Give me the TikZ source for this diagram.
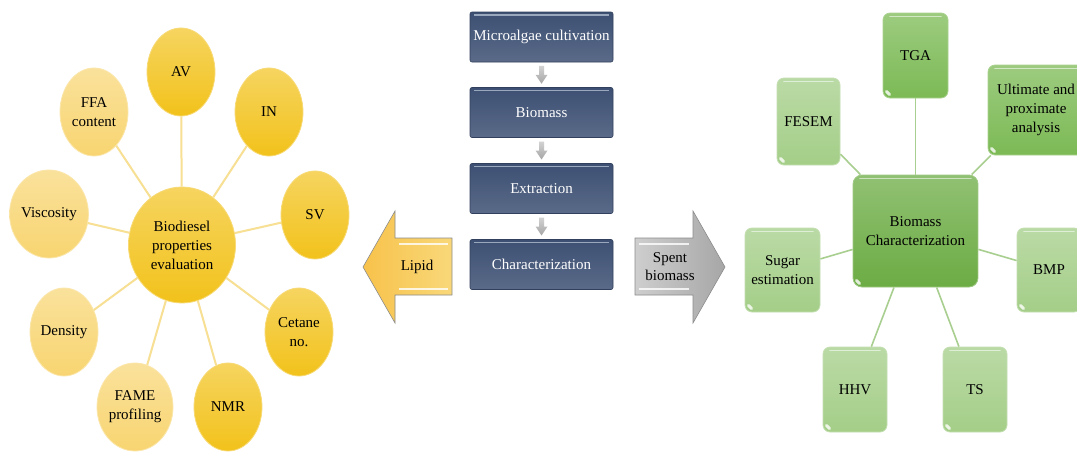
\documentclass[tikz,border=0pt]{standalone}
\usepackage{fontspec}
\setmainfont{Liberation Serif}
\usetikzlibrary{shapes.geometric,calc}

\definecolor{gold}{HTML}{F2C21B}
\definecolor{goldlight}{HTML}{F8D571}
\definecolor{goldline}{HTML}{F7DF93}
\definecolor{navy}{HTML}{3D5073}
\definecolor{navyglint}{HTML}{9AA8BE}
\definecolor{leafdark}{HTML}{6CAC44}
\definecolor{leafmid}{HTML}{7CBA55}
\definecolor{leaflight}{HTML}{A4CE88}
\definecolor{leafline}{HTML}{A9CF90}
\definecolor{lipidfill}{HTML}{F7CE58}
\definecolor{spentfill}{HTML}{B9B9B9}

\tikzset{
  x=1pt, y=-1pt,
  txt/.style={font=\fontsize{15}{19}\selectfont, align=center, text=black},
  ball/.style={txt, ellipse, inner sep=0pt, draw=#1!60!white, line width=0.8pt,
    top color=#1!70!white, bottom color=#1, minimum width=68, minimum height=88},
  glint/.style={path picture={
    \draw[white, opacity=.55, line width=1.6pt, line cap=round]
      ([xshift=7pt,yshift=-3.5pt]path picture bounding box.north west) --
      ([xshift=-7pt,yshift=-3.5pt]path picture bounding box.north east);
    \draw[white, opacity=.8, line width=3pt, line cap=round]
      ([xshift=3.5pt,yshift=6.5pt]path picture bounding box.south west) --
      ([xshift=6.5pt,yshift=3.5pt]path picture bounding box.south west);
  }},
  tile/.style={txt, rectangle, rounded corners=7pt, inner sep=2pt,
    draw=#1!65!white, line width=0.8pt, top color=#1!75!white, bottom color=#1,
    glint, minimum width=64, minimum height=85},
  stage/.style={txt, rectangle, rounded corners=2pt, text=white,
    top color=navy, bottom color=navy!85!white,
    draw=navy!80!black, line width=0.6pt, minimum width=143, minimum height=50,
    inner sep=0pt,
    path picture={
      \draw[navyglint, line width=1.8pt]
        ([xshift=4pt,yshift=-3pt]path picture bounding box.north west) --
        ([xshift=-4pt,yshift=-3pt]path picture bounding box.north east);
    }},
  yline/.style={draw=goldline, line width=2pt},
  gline/.style={draw=leafline, line width=1.6pt},
  flowtip/.style={top color=gray!35, bottom color=gray!70, draw=none},
}

\begin{document}
\begin{tikzpicture}
\useasboundingbox (0,0) rectangle (1077,451);
\fill[white] (0,0) rectangle (1077,451);
\clip (0,0) rectangle (1077,451);

% ---------- biodiesel properties (left) ----------
\node[ball=gold, minimum width=107, minimum height=116] (bio) at (182,245)
  {Biodiesel\\properties\\evaluation};
\node[ball=gold]      (av)  at (181,72)  {AV};
\node[ball=gold]      (in)  at (269,112) {IN};
\node[ball=gold]      (sv)  at (315,215) {SV};
\node[ball=gold]      (cet) at (299,332) {Cetane\\no.};
\node[ball=gold]      (nmr) at (228,407) {NMR};
\node[ball=goldlight, minimum width=76] (fame) at (135,407) {FAME\\profiling};
\node[ball=goldlight] (den) at (64,332)  {Density};
\node[ball=goldlight, minimum width=75] (vis) at (49,214)  {Viscosity};
\node[ball=goldlight] (ffa) at (94,112)  {FFA\\content};

\foreach \n in {av,in,sv,cet,nmr,fame,den,vis,ffa}
  \draw[yline] (bio) -- (\n);

% ---------- process chain (middle) ----------
\node[stage] (s1) at (541.5,37)  {Microalgae cultivation};
\node[stage] (s2) at (541.5,112.5) {Biomass};
\node[stage] (s3) at (541.5,188.5) {Extraction};
\node[stage] (s4) at (541.5,264.5) {Characterization};

\foreach \a/\b in {s1/s2, s2/s3, s3/s4} {
  \coordinate (m) at ($(\a.south)!0.5!(\b.north)$);
  \path[flowtip] ([shift={(-2.5,-9)}]m) -- ([shift={(2.5,-9)}]m) --
    ([shift={(2.5,0)}]m) -- ([shift={(6,0)}]m) -- ([shift={(0,9)}]m) --
    ([shift={(-6,0)}]m) -- ([shift={(-2.5,0)}]m) -- cycle;
}

% lipid arrow (to the left)
\path[draw=black!45, line width=0.6pt, left color=lipidfill!85!orange, right color=lipidfill!80!white]
  (363,267) -- (395,211) -- (395,238) -- (452,238) -- (452,295) -- (395,295) -- (395,323) -- cycle;
\draw[white, opacity=.8, line width=1.8pt] (399,244) -- (448,244) (399,289) -- (448,289);
\node[txt] (lipid) at (417,267) {Lipid};

% spent biomass arrow (to the right)
\path[draw=black!45, line width=0.6pt, left color=spentfill!70!white, right color=spentfill!90!black]
  (635,238) -- (693,238) -- (693,211) -- (725,267) -- (693,323) -- (693,295) -- (635,295) -- cycle;
\draw[white, opacity=.8, line width=1.8pt] (639,244) -- (689,244) (639,289) -- (689,289);
\node[txt, font=\fontsize{15}{18}\selectfont] (spent) at (670,267) {Spent\\biomass};

% ---------- biomass characterization (right) ----------
\node[tile=leafdark, minimum width=125, minimum height=112, rounded corners=9pt] (bc) at (915.5,231)
  {Biomass\\Characterization};
\node[tile=leafmid, minimum width=65]  (tga) at (915.5,55.5) {TGA};
\node[tile=leafmid, minimum width=96, minimum height=90] (ult) at (1036,110)
  {Ultimate and\\proximate\\analysis};
\node[tile=leaflight, minimum width=63, minimum height=87] (fes) at (808.5,121.5) {FESEM};
\node[tile=leaflight, minimum width=75, minimum height=84] (sug) at (782.5,270) {Sugar\\estimation};
\node[tile=leaflight, minimum height=84] (bmp) at (1049,270) {BMP};
\node[tile=leaflight] (hhv) at (855,389.5) {HHV};
\node[tile=leaflight] (ts)  at (975,389.5) {TS};

\foreach \n in {tga,ult,fes,sug,bmp,hhv,ts}
  \draw[gline] (bc) -- (\n);
\end{tikzpicture}
\end{document}
